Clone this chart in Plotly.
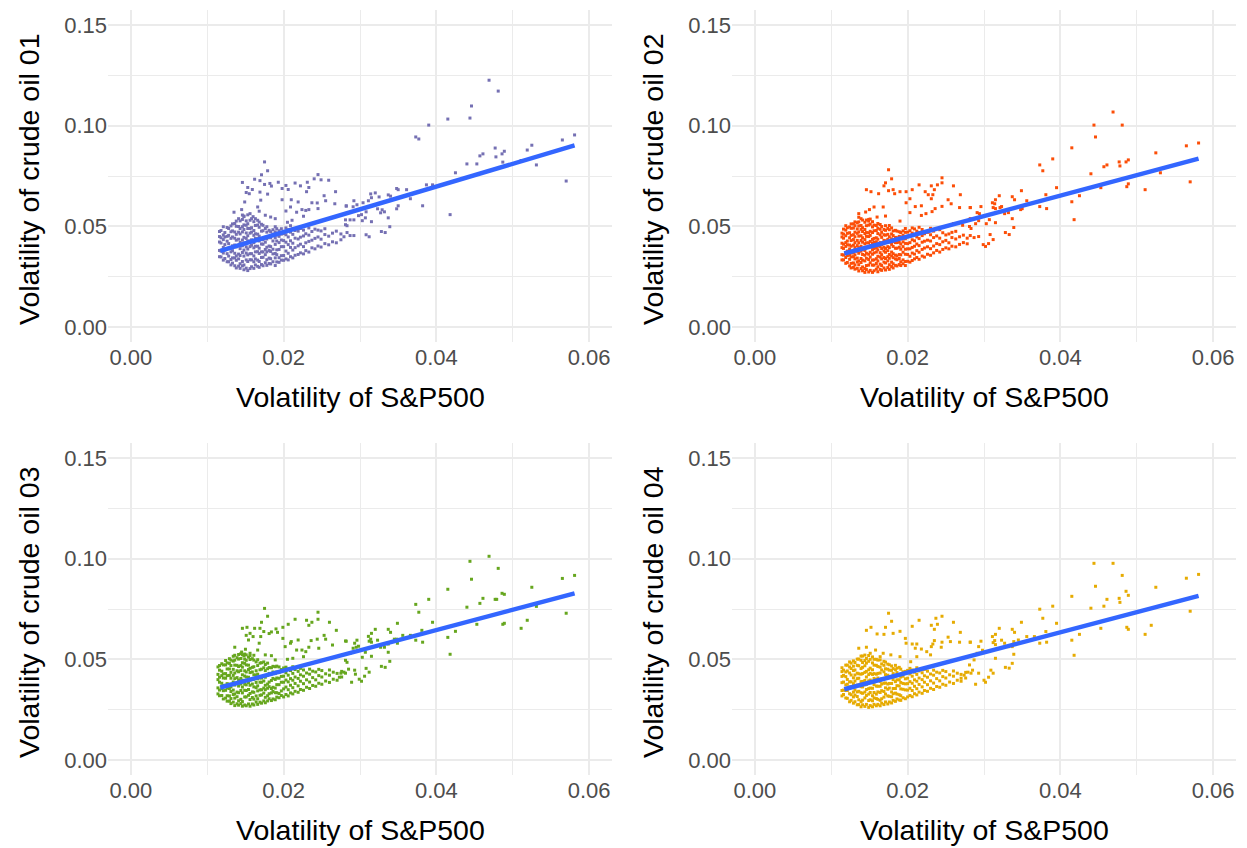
import plotly.graph_objects as go

# ---------------- data ----------------
# Sparse / outlying points, (S&P500 volatility, crude-oil volatility)
oil01_sparse = [
    (0.0469,0.1226),(0.0481,0.1172),(0.0446,0.1098),(0.0444,0.1038),(0.0415,0.1033),(0.0390,0.1003),
    (0.0373,0.0944),(0.0377,0.0934),(0.0581,0.0954),(0.0565,0.0929),(0.0525,0.0903),(0.0519,0.0879),
    (0.0531,0.0805),(0.0570,0.0725),(0.0477,0.0889),(0.0489,0.0873),(0.0486,0.0860),(0.0478,0.0845),
    (0.0487,0.0819),(0.0461,0.0860),(0.0457,0.0850),(0.0453,0.0810),(0.0440,0.0810),(0.0425,0.0766),
    (0.0511,0.0827),(0.0418,0.0558),(0.0395,0.0706),(0.0387,0.0706),(0.0382,0.0602),(0.0366,0.0637),
    (0.0361,0.0682),(0.0348,0.0688),(0.0350,0.0682),(0.0350,0.0602),(0.0348,0.0587),(0.0337,0.0656),
    (0.0340,0.0650),(0.0337,0.0542),(0.0339,0.0498),(0.0328,0.0474),(0.0333,0.0469),(0.0325,0.0646),
    (0.0320,0.0666),(0.0314,0.0661),(0.0315,0.0642),(0.0311,0.0627),(0.0304,0.0617),(0.0323,0.0587),
    (0.0329,0.0582),(0.0332,0.0572),(0.0327,0.0567),(0.0308,0.0572),(0.0307,0.0542),(0.0315,0.0523),
    (0.0303,0.0528),(0.0302,0.0558),(0.0298,0.0553),(0.0296,0.0607),(0.0291,0.0597),(0.0292,0.0627),
    (0.0282,0.0602),(0.0292,0.0532),(0.0287,0.0532),(0.0281,0.0532),(0.0281,0.0508),(0.0283,0.0503),
    (0.0308,0.0458),(0.0312,0.0448),(0.0283,0.0469),(0.0287,0.0454),(0.0292,0.0454),(0.0279,0.0448),
    (0.0175,0.0820),(0.0179,0.0776),(0.0171,0.0756),(0.0146,0.0718),(0.0162,0.0734),(0.0169,0.0727),
    (0.0175,0.0708),(0.0182,0.0713),(0.0184,0.0700),(0.0193,0.0719),(0.0153,0.0693),(0.0159,0.0683),
    (0.0155,0.0662),(0.0169,0.0670),(0.0179,0.0660),(0.0198,0.0688),(0.0203,0.0703),(0.0206,0.0683),
    (0.0215,0.0715),(0.0222,0.0701),(0.0231,0.0719),(0.0233,0.0693),(0.0230,0.0672),(0.0240,0.0736),
    (0.0245,0.0757),(0.0249,0.0731),(0.0259,0.0729),(0.0268,0.0672),(0.0253,0.0652),(0.0244,0.0616),
    (0.0255,0.0627),(0.0267,0.0612),(0.0282,0.0600),(0.0198,0.0632),(0.0210,0.0632),(0.0219,0.0621),
    (0.0203,0.0576),(0.0209,0.0596),(0.0217,0.0570),(0.0224,0.0583),(0.0229,0.0579),(0.0233,0.0583),
    (0.0237,0.0617),(0.0245,0.0588),(0.0226,0.0550),(0.0211,0.0530),(0.0205,0.0520),(0.0149,0.0621),
    (0.0151,0.0668),(0.0170,0.0630),(0.0166,0.0596),(0.0168,0.0575),(0.0135,0.0570),(0.0145,0.0583),
    (0.0156,0.0563),(0.0160,0.0548),(0.0176,0.0555),(0.0183,0.0546),(0.0148,0.0551),(0.0189,0.0538),
]
oil02_sparse = [
    (0.0469,0.1068),(0.0444,0.1003),(0.0481,0.1003),(0.0446,0.0944),(0.0415,0.0890),(0.0390,0.0835),
    (0.0373,0.0805),(0.0377,0.0776),(0.0565,0.0900),(0.0581,0.0914),(0.0525,0.0865),(0.0570,0.0721),
    (0.0531,0.0766),(0.0511,0.0682),(0.0477,0.0820),(0.0486,0.0820),(0.0489,0.0830),(0.0478,0.0800),
    (0.0461,0.0805),(0.0457,0.0796),(0.0440,0.0761),(0.0489,0.0711),(0.0487,0.0697),(0.0453,0.0692),
    (0.0425,0.0652),(0.0415,0.0622),(0.0418,0.0533),(0.0395,0.0692),(0.0381,0.0657),(0.0382,0.0588),
    (0.0373,0.0598),(0.0356,0.0627),(0.0349,0.0677),(0.0337,0.0647),(0.0340,0.0632),(0.0350,0.0588),
    (0.0348,0.0583),(0.0337,0.0538),(0.0339,0.0494),(0.0333,0.0459),(0.0328,0.0469),(0.0320,0.0652),
    (0.0315,0.0632),(0.0314,0.0612),(0.0311,0.0617),(0.0323,0.0598),(0.0327,0.0563),(0.0332,0.0568),
    (0.0321,0.0593),(0.0312,0.0593),(0.0315,0.0588),(0.0307,0.0533),(0.0315,0.0518),(0.0303,0.0513),
    (0.0308,0.0459),(0.0312,0.0434),(0.0306,0.0414),(0.0299,0.0409),(0.0302,0.0400),(0.0296,0.0598),
    (0.0291,0.0568),(0.0294,0.0563),(0.0282,0.0593),(0.0289,0.0513),(0.0293,0.0528),(0.0281,0.0499),
    (0.0283,0.0489),(0.0293,0.0449),(0.0287,0.0444),(0.0282,0.0454),
    (0.0175,0.0781),(0.0179,0.0736),(0.0169,0.0701),(0.0171,0.0716),(0.0146,0.0682),(0.0152,0.0672),
    (0.0162,0.0662),(0.0175,0.0677),(0.0181,0.0682),(0.0183,0.0662),(0.0190,0.0672),(0.0198,0.0672),
    (0.0206,0.0682),(0.0215,0.0706),(0.0231,0.0701),(0.0239,0.0706),(0.0245,0.0741),(0.0245,0.0716),
    (0.0260,0.0701),(0.0235,0.0682),(0.0223,0.0672),(0.0227,0.0657),(0.0233,0.0657),(0.0231,0.0637),
    (0.0253,0.0632),(0.0269,0.0657),(0.0203,0.0637),(0.0198,0.0617),(0.0210,0.0598),(0.0218,0.0602),
    (0.0203,0.0568),(0.0218,0.0554),(0.0224,0.0563),(0.0232,0.0573),(0.0236,0.0588),(0.0245,0.0599),
    (0.0257,0.0612),(0.0268,0.0593),(0.0282,0.0593),(0.0282,0.0538),(0.0272,0.0505),(0.0260,0.0513),
    (0.0136,0.0563),(0.0145,0.0571),(0.0150,0.0583),(0.0156,0.0596),(0.0168,0.0596),(0.0149,0.0526),
    (0.0160,0.0546),(0.0171,0.0551),(0.0190,0.0526),
]
oil03_sparse = [
    (0.0469,0.1012),(0.0444,0.0987),(0.0481,0.0952),(0.0446,0.0898),(0.0415,0.0848),(0.0390,0.0798),
    (0.0373,0.0773),(0.0377,0.0734),(0.0565,0.0902),(0.0581,0.0917),(0.0525,0.0858),(0.0531,0.0763),
    (0.0570,0.0729),(0.0519,0.0694),(0.0511,0.0654),(0.0486,0.0828),(0.0489,0.0823),(0.0477,0.0798),
    (0.0479,0.0798),(0.0461,0.0803),(0.0457,0.0778),(0.0440,0.0759),(0.0453,0.0674),(0.0487,0.0674),
    (0.0489,0.0679),(0.0425,0.0639),(0.0418,0.0525),(0.0415,0.0609),(0.0395,0.0684),(0.0382,0.0585),
    (0.0381,0.0644),(0.0373,0.0595),(0.0366,0.0619),(0.0356,0.0619),(0.0349,0.0679),(0.0349,0.0580),
    (0.0345,0.0600),(0.0348,0.0600),(0.0337,0.0649),(0.0340,0.0634),(0.0337,0.0535),(0.0339,0.0490),
    (0.0328,0.0465),(0.0333,0.0460),(0.0320,0.0649),(0.0323,0.0595),(0.0315,0.0629),(0.0311,0.0614),
    (0.0314,0.0600),(0.0312,0.0590),(0.0315,0.0585),(0.0327,0.0560),(0.0332,0.0560),(0.0337,0.0576),
    (0.0315,0.0515),(0.0307,0.0535),(0.0303,0.0510),(0.0308,0.0455),(0.0312,0.0436),(0.0306,0.0416),
    (0.0299,0.0401),(0.0302,0.0391),(0.0282,0.0590),(0.0293,0.0580),(0.0296,0.0595),(0.0291,0.0555),
    (0.0298,0.0565),(0.0295,0.0560),(0.0287,0.0530),(0.0281,0.0495),(0.0283,0.0485),(0.0293,0.0446),
    (0.0285,0.0451),(0.0279,0.0436),(0.0281,0.0431),(0.0275,0.0431),(0.0294,0.0426),(0.0289,0.0386),
    (0.0273,0.0411),
    (0.0175,0.0753),(0.0179,0.0714),(0.0171,0.0684),(0.0146,0.0654),(0.0152,0.0659),(0.0162,0.0654),
    (0.0169,0.0654),(0.0174,0.0638),(0.0181,0.0628),(0.0184,0.0636),(0.0190,0.0651),(0.0192,0.0634),
    (0.0151,0.0619),(0.0156,0.0629),(0.0160,0.0613),(0.0154,0.0596),(0.0170,0.0613),(0.0168,0.0580),
    (0.0199,0.0659),(0.0206,0.0674),(0.0215,0.0699),(0.0230,0.0694),(0.0233,0.0669),(0.0237,0.0684),
    (0.0245,0.0734),(0.0245,0.0699),(0.0260,0.0684),(0.0269,0.0644),(0.0253,0.0619),(0.0244,0.0600),
    (0.0255,0.0600),(0.0264,0.0571),(0.0281,0.0591),(0.0199,0.0604),(0.0210,0.0588),(0.0219,0.0596),
    (0.0202,0.0563),(0.0209,0.0580),(0.0217,0.0546),(0.0224,0.0546),(0.0229,0.0538),(0.0233,0.0560),
    (0.0236,0.0593),(0.0246,0.0555),(0.0226,0.0513),(0.0212,0.0505),(0.0205,0.0500),(0.0136,0.0560),
    (0.0145,0.0536),(0.0150,0.0550),(0.0156,0.0530),(0.0161,0.0520),(0.0166,0.0546),(0.0176,0.0522),
    (0.0184,0.0518),(0.0148,0.0517),(0.0189,0.0497),
]
oil04_sparse = [
    (0.0444,0.0977),(0.0469,0.0977),(0.0481,0.0917),(0.0446,0.0863),(0.0415,0.0813),(0.0390,0.0764),
    (0.0373,0.0749),(0.0377,0.0704),(0.0565,0.0903),(0.0581,0.0922),(0.0525,0.0858),(0.0570,0.0739),
    (0.0519,0.0669),(0.0511,0.0624),(0.0486,0.0838),(0.0489,0.0818),(0.0477,0.0803),(0.0478,0.0783),
    (0.0461,0.0798),(0.0457,0.0764),(0.0440,0.0754),(0.0453,0.0654),(0.0487,0.0659),(0.0489,0.0649),
    (0.0425,0.0624),(0.0418,0.0520),(0.0415,0.0595),(0.0395,0.0679),(0.0382,0.0585),(0.0381,0.0638),
    (0.0373,0.0580),(0.0366,0.0613),(0.0356,0.0613),(0.0349,0.0684),(0.0345,0.0596),(0.0339,0.0588),
    (0.0337,0.0649),(0.0340,0.0634),(0.0339,0.0525),(0.0337,0.0480),(0.0328,0.0460),(0.0333,0.0456),
    (0.0320,0.0654),(0.0323,0.0595),(0.0315,0.0624),(0.0311,0.0613),(0.0314,0.0593),(0.0312,0.0583),
    (0.0315,0.0573),(0.0327,0.0580),(0.0332,0.0563),(0.0337,0.0563),(0.0315,0.0505),(0.0309,0.0446),
    (0.0312,0.0431),(0.0306,0.0411),(0.0300,0.0396),(0.0302,0.0386),(0.0282,0.0585),(0.0293,0.0563),
    (0.0296,0.0590),(0.0291,0.0530),(0.0298,0.0545),(0.0295,0.0530),(0.0287,0.0497),(0.0281,0.0472),
    (0.0283,0.0431),(0.0293,0.0431),(0.0285,0.0446),(0.0279,0.0436),(0.0274,0.0421),(0.0289,0.0376),
    (0.0270,0.0406),
    (0.0175,0.0729),(0.0179,0.0689),(0.0171,0.0659),(0.0152,0.0659),(0.0146,0.0644),(0.0160,0.0626),
    (0.0169,0.0624),(0.0181,0.0629),(0.0190,0.0639),(0.0197,0.0604),(0.0206,0.0664),(0.0215,0.0694),
    (0.0231,0.0669),(0.0235,0.0649),(0.0239,0.0674),(0.0245,0.0714),(0.0237,0.0704),(0.0260,0.0684),
    (0.0269,0.0634),(0.0253,0.0610),(0.0245,0.0585),(0.0256,0.0588),(0.0268,0.0585),(0.0282,0.0585),
    (0.0198,0.0580),(0.0206,0.0576),(0.0212,0.0576),(0.0210,0.0555),(0.0218,0.0551),(0.0225,0.0538),
    (0.0231,0.0563),(0.0233,0.0576),(0.0235,0.0593),(0.0244,0.0560),(0.0230,0.0522),(0.0212,0.0513),
    (0.0204,0.0488),(0.0190,0.0513),(0.0178,0.0522),(0.0168,0.0530),(0.0158,0.0546),(0.0146,0.0560),
    (0.0136,0.0555),(0.0151,0.0530),(0.0164,0.0513),
]

# Dense core of each cloud, in units of 1e-4: one S&P500 value per column,
# with the crude-oil values estimated in that column.
core_x01 = [116,118,121,123,126,128,131,133,136,138,141,143,146,148,151,153,156,158,161,163,
            166,168,171,173,176,178,181,183,186,189,191,194,197,200,
            203,206,209,212,215,219,222,226,229,233,237,241,245,249,254,259,264,269,275]
core_y01 = [
    [349,380,422,449,474],[348,377,417,443,479],[332,367,395,434,457,498],[340,382,409,447,469],
    [324,364,390,426,450,494],[324,352,391,414,455,489],[308,335,373,395,440,473,502],
    [317,343,379,403,447,477,512],[304,343,366,407,441,472,514],[293,331,353,398,431,460,500,526],
    [302,338,362,406,436,471,499,538],[291,314,355,389,420,462,489,527],[303,325,370,403,432,472,498,534,556],
    [284,308,352,382,417,445,484,507,548],[292,333,367,398,440,467,505,527],[280,325,358,387,427,453,489,513,557],
    [290,334,364,399,427,466,489,530],[299,333,364,406,433,471,493,538],[291,324,353,393,419,455,479,523],
    [308,338,373,401,440,463,504,538],[301,332,374,401,439,461,506,530],[296,325,365,391,427,451,495,521],
    [310,345,373,412,435,476,510],[304,346,373,411,433,478,505],[319,359,385,421,445,489],
    [306,334,373,396,437,471,498],[315,342,380,402,447,480],[313,339,375,399,443,473],
    [324,363,386,427,461,483],[305,343,365,410,443,472,498],[323,359,383,427,457,488],
    [321,344,385,419,450,478],[332,354,399,432,461,488],[331,355,399,429,464],
    [338,377,421,458,492],[333,366,409,447,483],[349,395,428,471,503],[343,382,416,460,488],
    [356,394,441,479],[360,403,437,476],[368,411,446,489],[363,399,452,481],[379,418,463],
    [372,425,456,492],[393,431,474],[388,440,486],[402,447,481],[397,436,477],[414,459,488],
    [408,451],[423,466],[418,476],[433,462],
]
core_x02 = [114,116,119,121,124,126,129,131,134,136,139,141,144,146,149,151,154,156,159,161,
            164,166,169,171,174,176,179,181,184,186,189,191,194,197,200,
            203,206,209,212,215,219,222,226,230,234,238,242,246,250,254,258,263,268,273,278]
core_y02 = [
    [333,359,394,416,447,466],[333,357,390,411,441,461,486],[316,345,368,400,419,453,481,503],
    [320,355,377,408,427,465,493],[303,336,357,387,407,443,468,497],[293,316,348,367,401,429,455,490,512],
    [296,318,349,368,406,434,458,491,512],[287,308,338,358,394,419,448,471,503,522],
    [291,323,342,376,404,430,465,487,518],[278,309,328,366,394,418,451,472,502,522,545],
    [290,320,340,376,401,430,453,485,504,538],[279,298,332,360,386,421,443,474,493,531],
    [271,290,328,356,380,413,434,464,484,520],[285,305,341,366,395,418,450,469,503,531],
    [273,307,335,361,396,418,449,468,506,534],[281,319,347,371,404,425,455,475,511,536],
    [271,307,332,361,384,416,435,469,497,523],[279,307,333,368,390,421,440,478,506],
    [287,315,339,372,393,423,443,479,504],[274,299,328,351,383,402,436,464,490,514],
    [286,312,347,369,400,419,457,485,509],[281,305,338,359,389,409,445,470,499],
    [293,322,345,377,396,430,458,484],[283,318,340,371,390,428,456,480,503],
    [295,328,349,379,399,435,460,489],[286,309,341,360,394,422,448,483,504],
    [300,322,353,372,410,438,462,492],[293,314,344,364,400,425,454,477],
    [306,338,357,391,419,445,480],[303,334,353,391,419,443,476],[310,340,360,396,421,450,473],
    [305,324,358,386,412,447,469],[314,333,371,399,423,456,477],[305,325,361,386,415,438,470,489],
    [326,360,388,414,449,471],
    [322,351,388,419,452,478],[330,367,395,433,466,492],[338,362,401,428,459,487],[345,379,412,447,476],
    [336,371,404,439,469,495],[352,385,421,454,484],[347,392,426,463],[361,398,431,470],
    [356,389,427,458,490],[368,402,444,476],[380,414,452],[372,409,441,483],[385,423,468],
    [393,430,457],[388,418,462],[401,444,470],[398,437,475],[410,448],[419,456],[413,441],
]
core_x03 = [114,116,119,121,124,126,129,131,134,136,139,141,144,146,149,151,154,156,159,161,
            164,166,169,171,174,176,179,181,184,186,189,191,194,197,200,
            203,206,209,212,215,219,222,226,230,234,238,242,246,250,255,260,265,270,276]
core_y03 = [
    [328,358,399,425,462],[319,347,386,411,446,469],[320,354,381,419,441,478],[303,344,370,407,428,472],
    [307,346,371,406,429,472,494],[292,319,357,379,419,452,482],[292,318,355,376,420,452,480,503],
    [280,305,340,363,406,435,469,496],[287,325,347,387,420,450,491,515],[270,307,328,372,404,432,471,496,520],
    [279,314,337,380,409,443,470,508],[272,294,334,367,397,438,464,501,524],
    [280,301,345,377,405,444,469,504,528],[267,290,333,362,396,423,461,483,523],
    [273,313,346,376,417,443,480,501,526],[269,313,345,373,412,437,472,495,522],
    [278,321,350,384,411,449,471,511],[267,300,330,371,397,434,455,499,518],
    [278,310,338,377,402,437,460,503],[273,302,336,363,401,423,463,496],
    [288,318,359,385,422,443,487],[276,304,343,368,403,426,469,498],[287,321,348,386,408,448,481],
    [282,323,349,386,407,451,483],[293,332,357,392,415,458,487],[284,311,349,371,411,444,474],
    [293,319,356,377,421,453,481],[304,329,364,387,430,459],[295,333,355,395,428,458],
    [303,340,361,405,437,465],[299,334,357,400,429,463],[312,334,374,407,437,466],
    [309,330,374,406,434,462],[320,343,386,415,449],[313,353,386,416,457],
    [325,362,397,433,461],[318,349,388,421,452],[333,371,404,444],[328,359,396,430,463],
    [341,380,412,449],[336,368,405,440],[350,391,423,455],[346,379,416,447],[361,398,432],
    [355,387,426,451],[370,409,441],[366,398,437],[381,419,450],[376,412,444],[392,428],
    [385,421,447],[401,436],[396,430],[412,440],
]
core_x04 = [114,116,119,121,124,126,129,131,134,136,139,141,144,146,149,151,154,156,159,161,
            164,166,169,171,174,176,179,181,184,186,189,191,194,197,200,
            203,206,209,212,215,219,222,226,230,234,238,242,246,250,255,260,265,270,276]
core_y04 = [
    [318,345,384,415,439,458],[325,347,387,420,446],[308,345,373,414,437,471],[306,345,376,400,442,471],
    [289,329,362,388,432,462,487],[296,324,365,388,422,454,481],[282,313,337,379,408,444,466,492],
    [289,322,348,392,422,447,484],[274,315,338,372,404,431,470,501],[275,299,341,370,406,428,468,501],
    [264,290,334,364,389,426,454,495,516],[274,297,331,363,390,429,460,484,516],
    [266,308,337,373,395,435,468,494,521],[276,320,350,375,412,440,481,504],
    [261,295,327,354,393,424,448,490,519],[270,299,335,357,397,430,456,500],
    [264,294,319,356,384,425,448,482,512],[276,308,335,374,405,429,471,500],
    [269,305,327,367,400,426,470,500],[276,301,338,366,407,430,464,496],
    [269,296,335,366,390,432,461,497],[282,304,344,377,403,447,477],[275,312,340,381,404,438,470,490],
    [288,327,358,382,424,453,486],[278,318,351,377,421,451,476],[288,316,357,380,414,446,473],
    [283,314,338,380,409,445,467],[296,329,355,399,429,454],[291,332,355,389,421,448,470],
    [303,327,369,398,434,456],[298,324,368,398,423,460],[296,319,353,385,412,451],
    [309,351,380,416,438],[304,348,378,403,440],[313,347,379,406,445],
    [320,356,389,427,455],[314,345,381,416,447],[329,366,398,436],[323,354,391,425,458],
    [337,375,407,442],[331,363,399,433],[345,386,418,450],[341,374,411,441],[356,393,427],
    [350,382,421,446],[365,404,436],[361,393,432],[376,414,445],[371,407,439],[387,423],
    [380,416,442],[396,431],[391,425],[407,435],
]

# Fitted (lm) lines: endpoints x and y
fit_x = [0.0117, 0.0581]
fit_y01 = [0.0378, 0.0902]
fit_y02 = [0.0365, 0.0836]
fit_y03 = [0.0360, 0.0828]
fit_y04 = [0.0351, 0.0815]

panel_names = ["Volatility of crude oil 01", "Volatility of crude oil 02",
               "Volatility of crude oil 03", "Volatility of crude oil 04"]
x_title = "Volatility of S&P500"
colors = ["#7570B3", "#FC4E07", "#66A61E", "#E6AB02"]

# ---------------- build ----------------
def cloud(sparse, cx, cy):
    xs = [p[0] for p in sparse]
    ys = [p[1] for p in sparse]
    for xc, col in zip(cx, cy):
        for yv in col:
            xs.append(xc / 1e4)
            ys.append(yv / 1e4)
    return xs, ys

clouds = [cloud(oil01_sparse, core_x01, core_y01), cloud(oil02_sparse, core_x02, core_y02),
          cloud(oil03_sparse, core_x03, core_y03), cloud(oil04_sparse, core_x04, core_y04)]
fits = [fit_y01, fit_y02, fit_y03, fit_y04]

W, H = 1247, 848
# plot areas in pixels (left, right, top, bottom)
areas = [(108, 612, 10, 342), (732, 1236, 10, 342), (108, 612, 443, 775), (732, 1236, 443, 775)]

FONT = "Liberation Sans, Arial, sans-serif"
fig = go.Figure()
layout = dict(width=W, height=H, margin=dict(l=0, r=0, t=0, b=0),
              paper_bgcolor="white", plot_bgcolor="white", showlegend=False,
              font=dict(family=FONT), hovermode=False)
annotations = []
for i in range(4):
    n = "" if i == 0 else str(i + 1)
    l, r, t, b = areas[i]
    xs, ys = clouds[i]
    fig.add_trace(go.Scatter(x=xs, y=ys, mode="markers", xaxis="x" + n, yaxis="y" + n,
                             marker=dict(symbol="square", size=3, color=colors[i], line=dict(width=0))))
    fig.add_trace(go.Scatter(x=fit_x, y=fits[i], mode="lines", xaxis="x" + n, yaxis="y" + n,
                             line=dict(color="#3366FF", width=4.5)))
    common = dict(showline=False, zeroline=False, ticks="", gridcolor="#EBEBEB", gridwidth=2,
                  tickfont=dict(size=22, color="#4D4D4D", family=FONT), tickformat=".2f")
    layout["xaxis" + n] = dict(common, domain=[l / W, r / W], range=[-0.003, 0.063],
                               tick0=0, dtick=0.02, anchor="y" + n,
                               minor=dict(dtick=0.01, tick0=0, showgrid=True, gridcolor="#EBEBEB", gridwidth=1))
    layout["yaxis" + n] = dict(common, domain=[1 - b / H, 1 - t / H], range=[-0.0075, 0.1575],
                               tick0=0, dtick=0.05, anchor="x" + n,
                               minor=dict(dtick=0.025, tick0=0, showgrid=True, gridcolor="#EBEBEB", gridwidth=1))
    cx = (l + r) / 2
    annotations.append(dict(text=x_title, x=cx / W, y=1 - (b + 55) / H, xref="paper", yref="paper",
                            showarrow=False, xanchor="center", yanchor="middle",
                            font=dict(size=28.5, color="black", family=FONT)))
    annotations.append(dict(text=panel_names[i], x=(l - 79) / W, y=1 - ((t + b) / 2 + 3) / H,
                            xref="paper", yref="paper", showarrow=False, textangle=-90,
                            xanchor="center", yanchor="middle",
                            font=dict(size=28.5, color="black", family=FONT)))
layout["annotations"] = annotations
fig.update_layout(**layout)
fig.write_html("out.html")
